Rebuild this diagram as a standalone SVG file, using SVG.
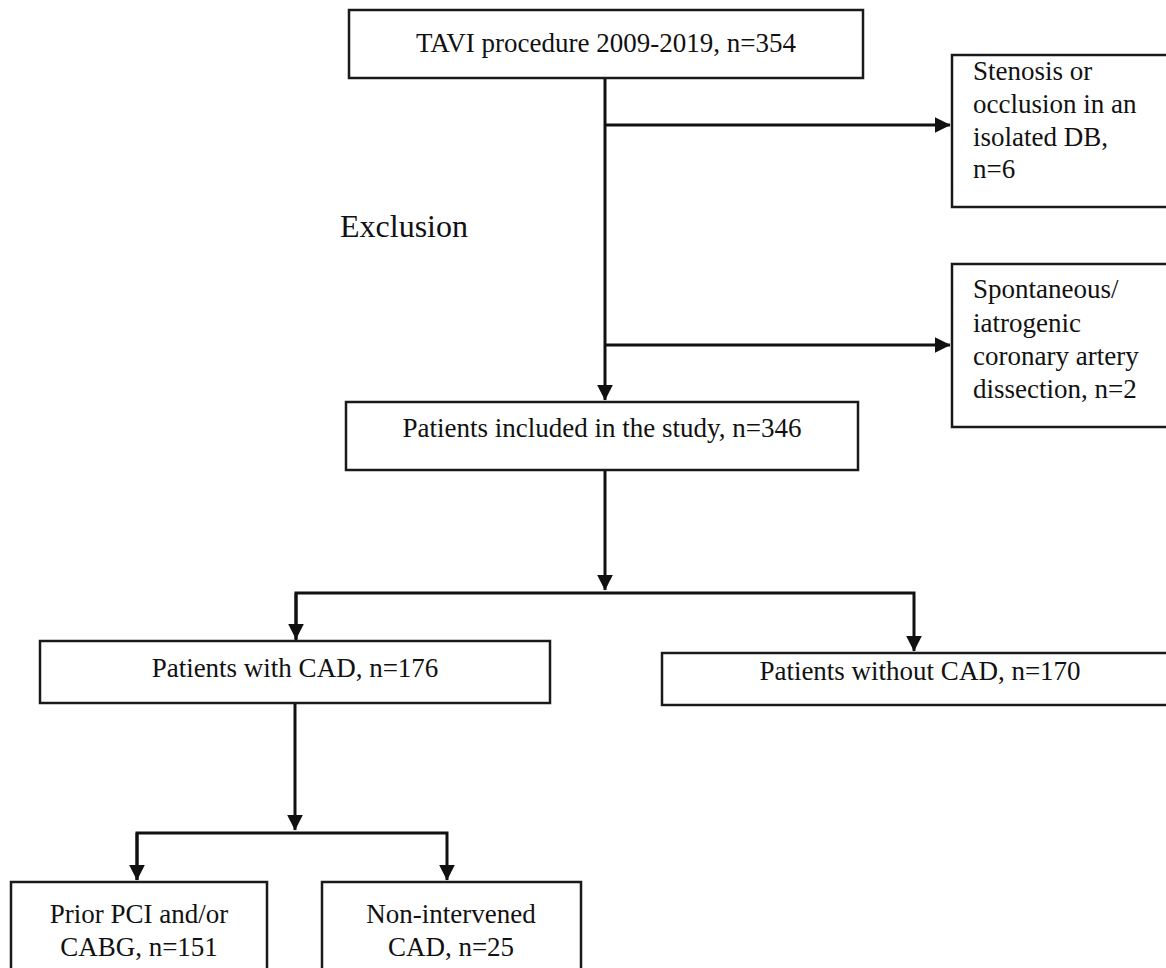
<svg xmlns="http://www.w3.org/2000/svg" width="1166" height="968" viewBox="0 0 1166 968">
<style>
.box{fill:#fff;stroke:#1a1a1a;stroke-width:2.5}
.t{font-family:"Liberation Serif","Times New Roman",serif;font-size:27px;fill:#111}
.c{text-anchor:middle}
.ln{stroke:#111;stroke-width:3;fill:none}
</style>
<defs>
<marker id="ah" markerWidth="6" markerHeight="6" refX="5" refY="3" orient="auto" markerUnits="strokeWidth">
<path d="M0,0.4 L5.2,3 L0,5.6 Z" fill="#111"/>
</marker>
</defs>
<rect width="1166" height="968" fill="#fff"/>
<g id="connectors">
<line class="ln" x1="605" y1="78" x2="605" y2="400" marker-end="url(#ah)"/>
<line class="ln" x1="605" y1="125" x2="950" y2="125" marker-end="url(#ah)"/>
<line class="ln" x1="605" y1="345" x2="950" y2="345" marker-end="url(#ah)"/>
<line class="ln" x1="605" y1="470" x2="605" y2="590" marker-end="url(#ah)"/>
<polyline class="ln" points="296,640 296,593 914,593 914,651" marker-end="url(#ah)"/>
<line class="ln" x1="296" y1="593" x2="296" y2="639" marker-end="url(#ah)"/>
<line class="ln" x1="295" y1="703" x2="295" y2="830" marker-end="url(#ah)"/>
<polyline class="ln" points="137,880 137,833 447,833 447,880" marker-end="url(#ah)"/>
<line class="ln" x1="137" y1="833" x2="137" y2="880" marker-end="url(#ah)"/>
</g>
<g id="n-tavi">
<rect class="box" x="349" y="10" width="514" height="68"/>
<text class="t c" x="606" y="52">TAVI procedure 2009-2019, n=354</text>
</g>
<g id="n-excl1">
<rect class="box" x="952" y="55" width="230" height="152"/>
<text class="t" x="973" y="80">Stenosis or</text>
<text class="t" x="973" y="113">occlusion in an</text>
<text class="t" x="973" y="146">isolated DB,</text>
<text class="t" x="973" y="178">n=6</text>
</g>
<g id="n-exclusion-label">
<text class="t" x="340" y="237" style="font-size:32px">Exclusion</text>
</g>
<g id="n-excl2">
<rect class="box" x="952" y="264" width="230" height="163"/>
<text class="t" x="973" y="298">Spontaneous/</text>
<text class="t" x="973" y="332">iatrogenic</text>
<text class="t" x="973" y="365">coronary artery</text>
<text class="t" x="973" y="398">dissection, n=2</text>
</g>
<g id="n-included">
<rect class="box" x="346" y="402" width="512" height="68"/>
<text class="t c" x="602" y="437">Patients included in the study, n=346</text>
</g>
<g id="n-cad">
<rect class="box" x="40" y="641" width="510" height="62"/>
<text class="t c" x="295" y="677">Patients with CAD, n=176</text>
</g>
<g id="n-nocad">
<rect class="box" x="662" y="653" width="520" height="52"/>
<text class="t c" x="920" y="680">Patients without CAD, n=170</text>
</g>
<g id="n-prior">
<rect class="box" x="11" y="882" width="256" height="100"/>
<text class="t c" x="139" y="923">Prior PCI and/or</text>
<text class="t c" x="139" y="956">CABG, n=151</text>
</g>
<g id="n-nonint">
<rect class="box" x="322" y="882" width="259" height="100"/>
<text class="t c" x="451" y="923">Non-intervened</text>
<text class="t c" x="451" y="956">CAD, n=25</text>
</g>
</svg>
